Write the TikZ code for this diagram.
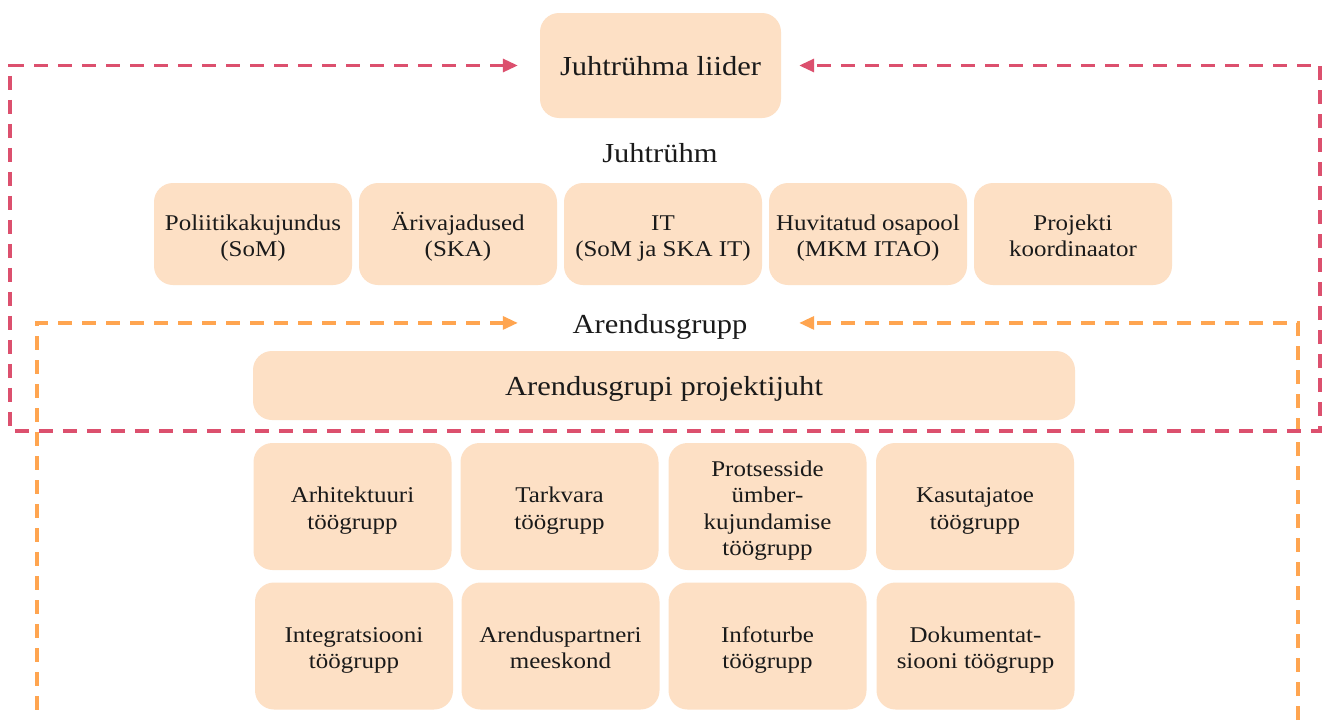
\documentclass[tikz,border=0pt]{standalone}
\usepackage{fontspec}
\setmainfont{Liberation Serif}[FakeStretch=1.11]
\usepackage{xcolor}
\usepackage{tikz}
\usetikzlibrary{positioning, arrows.meta, calc}
\definecolor{boxpeach}{HTML}{FDE0C5}
\definecolor{leadred}{HTML}{DC506E}
\definecolor{devorange}{HTML}{FFA550}
\definecolor{inkdark}{HTML}{1A1A1A}

\tikzset{
  looptip/.tip={Triangle[length=15pt, width=13pt]},
  orgbox/.style={fill=boxpeach, rounded corners=19pt, inner sep=0pt, align=center,
                 text=inkdark, text depth=0pt, font=\fontsize{22.5}{26.5}\selectfont},
  memberbox/.style={orgbox, minimum width=198pt, minimum height=102pt, text height=45pt},
  teambox/.style={orgbox, minimum width=198pt, minimum height=127pt, text height=45pt},
  grouptitle/.style={text=inkdark, inner sep=0pt, anchor=base, font=\fontsize{27.5}{32}\selectfont},
  loopline/.style={line width=3.2pt, dash pattern=on 14pt off 10pt},
}

\begin{document}
\begin{tikzpicture}[x=1pt, y=-1pt]
    \path[use as bounding box, fill=white] (0,0) rectangle (1324,720);

    % juhtgrupp
    \node[orgbox, minimum width=241pt, minimum height=105pt,
          font=\fontsize{27.5}{32}\selectfont] (leader) at (660.5,65.5) {Juhtrühma liider};
    \node[grouptitle] (boardlabel) at (660,162.5) {Juhtrühm};

    \node[memberbox] (policy) at (253,234) {Poliitikakujundus\\(SoM)};
    \node[memberbox] (business) at (458,234) {Ärivajadused\\(SKA)};
    \node[memberbox] (itpart) at (663,234) {IT\\(SoM ja SKA IT)};
    \node[memberbox] (stake) at (868,234) {Huvitatud osapool\\(MKM ITAO)};
    \node[memberbox] (coord) at (1073,234) {Projekti\\koordinaator};

    % arendusgrupp
    \node[grouptitle] (devlabel) at (660,333.5) {Arendusgrupp};
    \node[orgbox, minimum width=822pt, minimum height=69pt,
          font=\fontsize{27.5}{32}\selectfont] (devlead) at (664,385.5) {Arendusgrupi projektijuht};

    \node[teambox] (arch) at (352.5,506.5) {Arhitektuuri\\töögrupp};
    \node[teambox] (soft) at (559.5,506.5) {Tarkvara\\töögrupp};
    \node[teambox, text height=98pt] (process) at (767.5,506.5) {Protsesside\\ümber-\\kujundamise\\töögrupp};
    \node[teambox] (support) at (975,506.5) {Kasutajatoe\\töögrupp};

    \node[teambox] (integr) at (354,646) {Integratsiooni\\töögrupp};
    \node[teambox] (partner) at (560.5,646) {Arenduspartneri\\meeskond};
    \node[teambox] (infosec) at (767.5,646) {Infoturbe\\töögrupp};
    \node[teambox] (docs) at (975.5,646) {Dokumentat-\\siooni töögrupp};

    % tagasiside silmused
    \coordinate (devleft) at (37,720);
    \coordinate (devright) at (1298,720);
    \draw[loopline, devorange, looptip-] ($(leader.west |- devlabel.center)+(-22,-4)$) -| (devleft);
    \draw[loopline, devorange, -looptip] (devright) |- ($(leader.east |- devlabel.center)+(18,-4)$);

    \coordinate (redleft) at (10,431);
    \coordinate (redright) at (1320,431);
    \draw[loopline, leadred, looptip-looptip] ($(leader.west)+(-22,0)$) -| (redleft)
        -- (redright) |- ($(leader.east)+(18,0)$);
\end{tikzpicture}
\end{document}
